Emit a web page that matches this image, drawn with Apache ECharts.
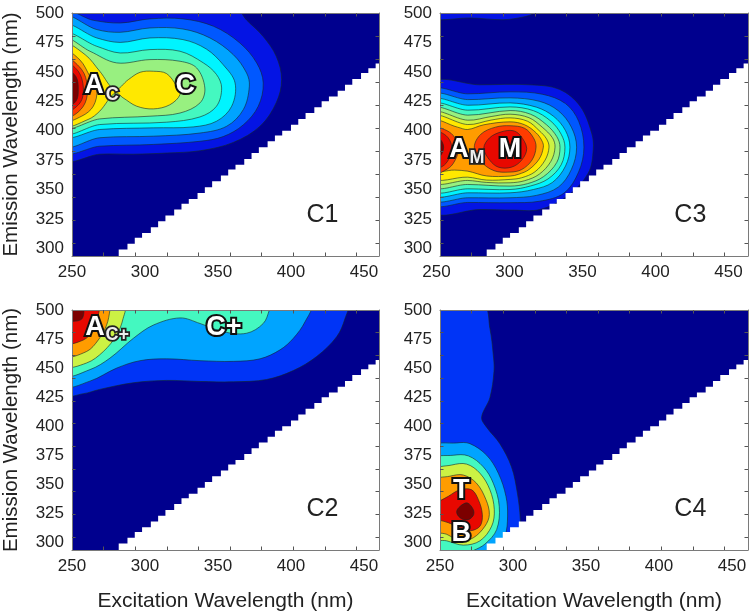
<!DOCTYPE html>
<html>
<head>
<meta charset="utf-8">
<title>EEM components</title>
<style>
html, body { margin: 0; padding: 0; background: #fff; }
#chart { width: 756px; height: 613px; }
</style>
<script src="https://cdn.jsdelivr.net/npm/echarts@6/dist/echarts.min.js"></script>
</head>
<body>
<div id="chart"></div>
<script>
// axis text and tick positions (the ticks do not line up with the labels in the original)
let exLabels = [250, 300, 350, 400, 450];
let emLabels = [300, 325, 350, 375, 400, 425, 450, 475, 500];
let exTicks = [271.6, 293.3, 315, 336.6, 358.3, 379.9, 401.6, 423.2, 444.9];
let emTicks = [480.5, 461, 441.4, 421.9, 402.3, 382.8, 363.2, 343.7, 324.1, 304.6];

// edge of the measured region, [ex, em] corners of each step
let stairEx = [282, 288, 293, 298, 304, 309, 314, 320, 325, 330, 336, 341, 346, 352, 357, 362, 368, 373, 378, 384, 389, 394, 400, 405, 410, 416, 421, 426, 432, 437, 442, 448, 453, 458];
let stairEm = [299, 304, 309, 313, 318, 323, 328, 333, 338, 342, 347, 352, 357, 362, 367, 371, 376, 381, 386, 391, 396, 400, 405, 410, 415, 420, 425, 429, 434, 439, 444, 449, 453, 457];

// contour bands, outermost first: one band name and one [ex, em] outline per contour
let c1Bands = ['blue', 'mid', 'sky', 'cyan', 'aqua', 'green', 'yellow', 'amber', 'redorange', 'red', 'dark'];
let c1Lines = [
    [[245, 376.5], [269, 380], [292, 380], [315, 381], [338, 383], [360.5, 390], [379, 404], [390, 424], [393.6, 443.4], [390, 463], [381, 480], [369.6, 494], [360.5, 506], [245, 506]],
    [[245, 500], [264.6, 493.8], [283, 491.5], [303.4, 495], [326, 495], [347, 488.7], [365, 474.5], [376.5, 457.6], [381, 440.6], [377.6, 420.8], [367.4, 405], [353.6, 395], [337.7, 391], [305.7, 388.3], [269, 386.8], [245, 383]],
    [[245, 495.8], [267, 485.9], [283, 483.6], [303.4, 487.3], [326, 486.4], [344.5, 478.8], [360.5, 464.6], [369.6, 449], [371.5, 437.8], [367.4, 418], [356, 403.8], [337.7, 398], [305.7, 395.3], [269, 394], [245, 388.3]],
    [[245, 488.7], [267, 478.8], [283, 475], [303.4, 478.8], [326, 477.4], [342, 469.4], [353.6, 456], [361.7, 440.6], [359.4, 420.8], [349, 408], [333, 403.2], [305.7, 402.4], [269, 401], [245, 396.5]],
    [[245, 481.6], [267, 471.7], [283, 466], [303.4, 468.9], [324, 467.5], [340, 457.6], [349, 447.7], [352.5, 436.3], [349, 420.8], [337.7, 411.7], [314.8, 407.2], [269, 405.2], [245, 399]],
    [[245, 477.4], [262.3, 467.5], [280.6, 457.6], [303.4, 460.4], [324, 459], [335.4, 453.3], [341, 436.3], [337.7, 423.6], [324, 415], [303.4, 412.3], [269, 410], [245, 403.8]],
    [[245, 473], [259, 464.6], [269, 450.5], [279.5, 435], [288.6, 443.4], [296.6, 449.6], [305.7, 450.5], [314.8, 448.5], [321.7, 437.8], [324, 430.7], [317, 422], [305.7, 418.5], [294.3, 420.8], [285, 427.9], [279.5, 432], [269, 416.6], [261, 409.5], [245, 405]],
    [[245, 467.5], [255.5, 460], [262.3, 446], [267, 435], [264.6, 420.8], [256.6, 412.3], [245, 409]],
    [[245, 462], [256.6, 452], [260.5, 437.8], [259, 423.6], [252, 413.7], [245, 412]],
    [[245, 458], [254.3, 450.5], [257.8, 436.3], [255.5, 423.6], [245, 416]],
    [[245, 453], [252.7, 446], [254.3, 435], [252.7, 425], [245, 420]]
];

let c3Bands = ['blue', 'blue', 'mid', 'sky', 'cyan', 'aqua', 'green', 'lime', 'yellow', 'amber', 'redorange', 'redorange', 'red', 'red', 'dark'];
let c3Lines = [
    [[245, 494.9], [270.5, 495.8], [293.4, 494.3], [307, 496.6], [315, 500], [316, 503], [245, 503]],
    [[245, 439.2], [277, 439], [311.6, 439], [332, 435], [346, 420.8], [353.9, 398], [355, 384], [351.6, 364], [336.8, 344], [318.5, 333], [300.2, 332.5], [277.4, 333], [245, 332.5]],
    [[245, 433.5], [269, 431.3], [298, 433], [320, 431], [336, 423], [345, 408], [348.6, 386], [345, 365], [335, 347], [318, 340], [298, 338.8], [269, 339], [245, 338.8]],
    [[245, 429.3], [269, 426.4], [298, 427.9], [318, 425], [331, 417], [340, 403], [343.6, 386], [340, 367], [331, 352], [316, 345], [298, 343], [269, 343], [245, 342.7]],
    [[245, 425], [269, 421.6], [298, 423.6], [316, 420], [328, 412], [336, 400], [339, 386], [336, 370], [327, 356], [314, 350], [298, 347.2], [269, 347.2], [245, 346.7]],
    [[245, 421.4], [269, 417.4], [298, 420.2], [314, 417], [326, 408], [333, 397], [335.6, 386], [333, 371], [324, 359], [312, 353], [298, 350], [269, 350.6], [245, 350]],
    [[245, 418], [269, 413.2], [298, 417.1], [312, 414], [323, 405], [330, 395], [332.2, 386], [330, 373], [321, 361], [310, 355], [298, 352.9], [269, 354.3], [245, 353.5]],
    [[245, 414.6], [269, 408.9], [285, 412], [298, 414], [311, 411], [320, 403], [327, 394], [328.8, 386], [326, 374], [318, 363], [308, 357.5], [298, 355.7], [282, 356], [269, 357.7], [245, 357.1]],
    [[245, 411.7], [269, 405.2], [285, 409], [298, 410.9], [310, 408], [318, 400], [323, 393], [324.7, 386], [322, 375], [315, 365], [306, 360], [298, 358.6], [282, 358], [269, 360.5], [245, 360.5]],
    [[245, 408], [262, 403], [269, 401], [280, 405], [298, 407.5], [308, 405], [316, 398], [320, 391], [320.8, 386], [318, 376], [311, 367], [304, 363], [298, 361.4], [282, 361.5], [269, 365.6], [260, 366.5], [245, 367]],
    [[273.5, 386], [278, 397], [288, 403], [298, 404.2], [308, 402], [314, 394], [315.8, 386], [313, 375], [306, 367], [298, 364.8], [287, 366], [278, 374]],
    [[245, 403], [253, 401], [259, 396], [263, 386], [259, 372], [253, 366], [245, 363]],
    [[280, 385], [284, 394], [292, 399], [300, 400], [305, 396], [309.4, 385], [306, 375], [299, 369], [290, 369], [284, 375]],
    [[245, 399], [254, 396], [258, 386], [254, 372], [245, 368]],
    [[245, 396], [250, 393], [252.5, 386], [250, 378], [245, 374]]
];

let c2Bands = ['royal', 'sky', 'aqua', 'lime', 'amber', 'red', 'dark'];
let c2Lines = [
    [[245, 427.5], [257.8, 428], [269, 431.7], [292, 437.4], [314.8, 439.4], [337.7, 438.5], [360.5, 438.2], [383.3, 440.2], [401.6, 447.9], [417.6, 460], [431.3, 477], [437, 492.6], [438.1, 504], [245, 504]],
    [[245, 435.4], [262.3, 438.8], [280.6, 450], [296.6, 456.4], [314.8, 458], [337.7, 456.4], [360.5, 455.8], [378.8, 458], [392.5, 465.7], [401.6, 475.6], [409.6, 489.8], [413, 504], [245, 504]],
    [[245, 444.5], [262.3, 448.7], [276, 458.6], [292, 475.6], [305.7, 487], [324, 493.2], [337.7, 488.4], [353.6, 481.3], [369.6, 480], [381, 488.4], [385.2, 500], [385.6, 504], [245, 504]],
    [[245, 452.4], [260, 454.4], [271.5, 464.3], [280.6, 478.5], [285, 492.6], [285.6, 504], [245, 504]],
    [[245, 461], [260, 464.3], [268, 474.2], [273.7, 487], [276, 500], [276, 504], [245, 504]],
    [[245, 472], [257.8, 474.2], [264.6, 482.7], [267.4, 492.6], [267.8, 504], [245, 504]],
    [[245, 492], [256.5, 492], [257, 504], [245, 504]]
];

let c4Bands = ['royal', 'sky', 'aqua', 'lime', 'amber', 'red', 'dark'];
let c4Lines = [
    [[279.7, 504], [284.2, 484], [286.5, 461.5], [287, 447.3], [284.2, 424.6], [278.5, 407.6], [282, 399], [291, 385], [299, 365], [303, 342.5], [305, 320], [305, 291], [245, 291], [245, 504]],
    [[245, 381.6], [261.4, 385.6], [270.5, 385], [282, 375], [290, 359.5], [295.2, 339.7], [296.3, 322.7], [294.5, 305.7], [287.7, 294], [284, 288], [245, 288]],
    [[245, 370.8], [259, 375], [269.4, 374.5], [279.7, 365], [286.5, 351], [290.6, 331], [288.8, 311], [280.8, 298.6], [272.8, 293], [263.7, 288], [245, 288]],
    [[245, 361], [258, 366.6], [268.3, 367.4], [277.4, 359.5], [284.2, 345.3], [287.2, 328.3], [285.4, 314], [277.4, 301.4], [266, 297.7], [254.6, 301.4], [245, 304]],
    [[245, 352.4], [256.8, 357], [266, 358], [275, 351], [281.5, 336.8], [283.8, 324], [280.8, 314], [272.8, 304], [263.7, 301.4], [254.6, 307], [245, 311]],
    [[245, 331], [255.7, 339.7], [263.7, 345.3], [271.7, 345.3], [276.3, 336.8], [279, 324], [277.4, 314], [270.5, 310], [263.7, 312.8], [255.7, 317], [245, 322]],
    [[261.4, 326.3], [263.7, 331], [268.7, 334], [272.8, 328.3], [272.8, 323.2], [268.7, 319.3], [263.7, 321.3]]
];

// peak letters: text, ex, em
let c1Marks = [['A', 265, 438.5], ['C', 327.6, 438.5]];
let c1Subs = [['C', 277.6, 430.5]];
let c3Marks = [['A', 263, 384], ['M', 298, 384]];
let c3Subs = [['M', 275.3, 376.8]];
let c2Marks = [['A', 265.8, 484.5], ['C+', 354, 484.5]];
let c2Subs = [['C+', 281, 478.5]];
let c4Marks = [['T', 264.6, 344.5], ['B', 264.6, 308]];
let c4Subs = [];
let panelNamePos = [421.5, 328.5];

let bandColor = {
    blue: '#0414E4',
    royal: '#0034F6',
    mid: '#0058FF',
    sky: '#00A4FF',
    cyan: '#00F4FF',
    aqua: '#44F8C0',
    green: '#98F080',
    lime: '#CCF244',
    yellow: '#FFE800',
    amber: '#FF9C00',
    redorange: '#FF3C00',
    red: '#E80800',
    dark: '#7C0000'
};
let navy = '#00008E';
let axisColor = '#7a7a7a';
let textColor = '#222';
let fontName = '"Liberation Sans", Arial, sans-serif';

let panels = [
    { name: 'C1', grid: { left: 72, top: 13, width: 307, height: 243 }, exMax: 460.3, bands: c1Bands, lines: c1Lines, marks: c1Marks, subs: c1Subs, yName: true, xName: false, shift: 0 },
    { name: 'C3', grid: { left: 440, top: 13, width: 308, height: 243 }, exMax: 461, bands: c3Bands, lines: c3Lines, marks: c3Marks, subs: c3Subs, yName: false, xName: false, shift: 7 },
    { name: 'C2', grid: { left: 72, top: 310, width: 307, height: 243 }, exMax: 460.3, bands: c2Bands, lines: c2Lines, marks: c2Marks, subs: c2Subs, yName: true, xName: true, shift: 0 },
    { name: 'C4', grid: { left: 440, top: 310, width: 308, height: 243 }, exMax: 461, bands: c4Bands, lines: c4Lines, marks: c4Marks, subs: c4Subs, yName: false, xName: true, shift: 0 }
];

// white area outside the measured region, as a stepped outline
function stairOutline() {
    let pts = [[470, 285], [stairEx[0], 285]];
    stairEx.forEach((ex, i) => {
        let next = i < stairEx.length - 1 ? stairEx[i + 1] : 470;
        pts.push([ex, stairEm[i]]);
        pts.push([next, stairEm[i]]);
    });
    return pts;
}

function contourSeries(p, idx) {
    return {
        type: 'custom',
        xAxisIndex: idx * 2,
        yAxisIndex: idx * 2,
        coordinateSystem: 'cartesian2d',
        clip: true,
        silent: true,
        z: 2,
        data: p.lines.map((l, i) => [l[0][0], l[0][1], i]),
        renderItem(params, api) {
            let i = params.dataIndex;
            return {
                type: 'polygon',
                shape: { points: p.lines[i].map(pt => api.coord(pt)), smooth: 0.35 },
                style: {
                    fill: bandColor[p.bands[i]],
                    stroke: 'rgba(20,40,40,0.75)',
                    lineWidth: 0.8
                }
            };
        }
    };
}

function stairSeries(p, idx) {
    let stair = stairOutline();
    return {
        type: 'custom',
        xAxisIndex: idx * 2,
        yAxisIndex: idx * 2,
        coordinateSystem: 'cartesian2d',
        clip: true,
        silent: true,
        z: 3,
        data: [[stair[0][0], stair[0][1]]],
        renderItem(params, api) {
            return {
                type: 'polygon',
                shape: { points: stair.map(pt => api.coord(pt)) },
                style: { fill: '#fff' }
            };
        }
    };
}

function textSeries(rows, idx, style) {
    return {
        type: 'custom',
        xAxisIndex: idx * 2,
        yAxisIndex: idx * 2,
        coordinateSystem: 'cartesian2d',
        silent: true,
        z: 10,
        data: rows.map(r => [r[1], r[2], r[0]]),
        renderItem(params, api) {
            let c = api.coord([api.value(0), api.value(1)]);
            return {
                type: 'text',
                x: c[0],
                y: c[1],
                style: Object.assign({
                    text: rows[params.dataIndex][0],
                    align: 'center',
                    verticalAlign: 'middle'
                }, style)
            };
        }
    };
}

let markStyle = {
    font: 'bold 27px ' + fontName,
    fill: '#fff',
    stroke: '#111',
    lineWidth: 4,
    shadowBlur: 3,
    shadowColor: 'rgba(0,0,0,0.6)'
};
let subStyle = {
    font: 'bold 18px ' + fontName,
    fill: '#eee',
    stroke: '#222',
    lineWidth: 3.5,
    shadowBlur: 2,
    shadowColor: 'rgba(0,0,0,0.5)'
};
let nameStyle = {
    font: '25px ' + fontName,
    fill: textColor
};

let grids = [];
let xAxes = [];
let yAxes = [];
let series = [];

panels.forEach((p, idx) => {
    grids.push(Object.assign({ show: true, backgroundColor: navy, borderWidth: 0 }, p.grid));

    let axisStyle = { show: true, onZero: false, lineStyle: { color: axisColor, width: 1 } };
    let labelFont = { fontFamily: fontName, fontSize: 17, color: textColor };

    xAxes.push({
        type: 'value', gridIndex: idx, min: 250, max: p.exMax, z: 6,
        axisLine: axisStyle,
        axisTick: { show: true, inside: true, length: 3.5, customValues: exTicks, lineStyle: { color: '#555' } },
        axisLabel: Object.assign({ customValues: exLabels, margin: 8, padding: [0, p.shift, 0, 0] }, labelFont),
        splitLine: { show: false },
        name: p.xName ? 'Excitation Wavelength (nm)' : '',
        nameLocation: 'middle',
        nameGap: 41,
        nameTextStyle: { fontFamily: fontName, fontSize: 21, color: textColor }
    });
    xAxes.push({
        type: 'value', gridIndex: idx, min: 250, max: p.exMax, position: 'top', z: 6,
        axisLine: axisStyle,
        axisTick: { show: true, inside: true, length: 3.5, customValues: exTicks, lineStyle: { color: '#555' } },
        axisLabel: { show: false },
        splitLine: { show: false }
    });
    yAxes.push({
        type: 'value', gridIndex: idx, min: 293.5, max: 500, z: 6,
        axisLine: axisStyle,
        axisTick: { show: true, inside: true, length: 3.5, customValues: emTicks, lineStyle: { color: '#555' } },
        axisLabel: Object.assign({ customValues: emLabels, margin: 8 }, labelFont),
        splitLine: { show: false },
        name: p.yName ? 'Emission Wavelength (nm)' : '',
        nameLocation: 'middle',
        nameGap: 50,
        nameRotate: 90,
        nameTextStyle: { fontFamily: fontName, fontSize: 20.5, color: textColor }
    });
    yAxes.push({
        type: 'value', gridIndex: idx, min: 293.5, max: 500, position: 'right', z: 6,
        axisLine: axisStyle,
        axisTick: { show: true, inside: true, length: 3.5, customValues: emTicks, lineStyle: { color: '#555' } },
        axisLabel: { show: false },
        splitLine: { show: false }
    });

    series.push(contourSeries(p, idx));
    series.push(stairSeries(p, idx));
    series.push(textSeries(p.marks, idx, markStyle));
    if (p.subs.length) {
        series.push(textSeries(p.subs, idx, subStyle));
    }
    series.push(textSeries([[p.name, panelNamePos[0], panelNamePos[1]]], idx, nameStyle));
});

let myChart = echarts.init(document.getElementById('chart'));
myChart.setOption({
    animation: false,
    backgroundColor: '#fff',
    grid: grids,
    xAxis: xAxes,
    yAxis: yAxes,
    series: series
});
</script>
</body>
</html>
